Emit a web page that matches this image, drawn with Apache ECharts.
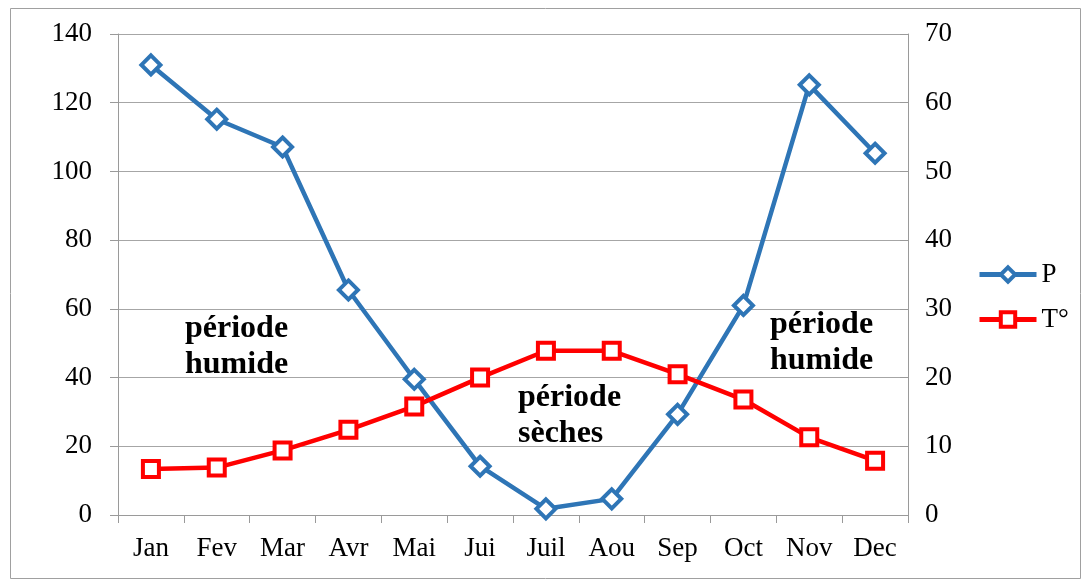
<!DOCTYPE html>
<html>
<head>
<meta charset="utf-8">
<script src="https://cdn.jsdelivr.net/npm/echarts@6/dist/echarts.min.js"></script>
<style>
  html, body { margin: 0; padding: 0; background: #fff; }
  #chart { width: 1081px; height: 579px; }
</style>
</head>
<body>
<div id="chart"></div>
<script>
const months = ['Jan', 'Fev', 'Mar', 'Avr', 'Mai', 'Jui', 'Juil', 'Aou', 'Sep', 'Oct', 'Nov', 'Dec'];
const precip = [131, 115.2, 107.1, 65.5, 39.5, 14.2, 1.8, 4.7, 29.3, 61, 125.2, 105.3];
const temp = [6.7, 6.9, 9.4, 12.4, 15.8, 20, 23.9, 23.9, 20.5, 16.8, 11.3, 7.9];

const serif = '"Liberation Serif", "Times New Roman", serif';
const blue = '#2e75b6';
const red = '#ff0000';

const chart = echarts.init(document.getElementById('chart'));

chart.setOption({
  animation: false,
  textStyle: { fontFamily: serif },
  grid: { left: 118, right: 173, top: 34, bottom: 64 },
  legend: {
    orient: 'vertical',
    left: 972,
    top: 256,
    itemWidth: 57,
    itemHeight: 18,
    itemGap: 18,
    lineStyle: { width: 5 },
    itemStyle: { borderWidth: 4 },
    textStyle: { fontFamily: serif, fontSize: 27, color: '#000' },
    data: ['P', 'T°']
  },
  xAxis: {
    type: 'category',
    data: months,
    boundaryGap: true,
    axisLine: { lineStyle: { color: '#9a9a9a', width: 1 } },
    axisTick: { show: true, length: 8, lineStyle: { color: '#9a9a9a' } },
    axisLabel: { fontFamily: serif, fontSize: 27, color: '#000', margin: 20 }
  },
  yAxis: [
    {
      type: 'value', min: 0, max: 140, interval: 20,
      axisLine: { show: true, lineStyle: { color: '#9a9a9a' } },
      axisTick: { show: true, length: 8, lineStyle: { color: '#9a9a9a' } },
      splitLine: { lineStyle: { color: '#a6a6a6', width: 1 } },
      axisLabel: { fontFamily: serif, fontSize: 27, color: '#000', margin: 26 }
    },
    {
      type: 'value', min: 0, max: 70, interval: 10, position: 'right',
      axisLine: { show: true, lineStyle: { color: '#9a9a9a' } },
      axisTick: { show: true, inside: true, length: 8, lineStyle: { color: '#9a9a9a' } },
      splitLine: { show: false },
      axisLabel: { fontFamily: serif, fontSize: 27, color: '#000', margin: 17 }
    }
  ],
  series: [
    {
      name: 'P',
      type: 'line',
      data: precip,
      yAxisIndex: 0,
      symbol: 'diamond',
      symbolSize: 19,
      color: blue,
      lineStyle: { width: 4.5, color: blue },
      itemStyle: { color: '#fff', borderColor: blue, borderWidth: 4 },
      z: 3
    },
    {
      name: 'T°',
      type: 'line',
      data: temp,
      yAxisIndex: 1,
      symbol: 'rect',
      symbolSize: 16,
      color: red,
      lineStyle: { width: 4.5, color: red },
      itemStyle: { color: '#fff', borderColor: red, borderWidth: 4 },
      z: 4
    }
  ],
  graphic: [
    { type: 'rect', left: 8, top: 6, shape: { width: 1070, height: 570 }, style: { fill: 'none', stroke: '#a0a0a0', lineWidth: 1 }, silent: true },
    { type: 'text', left: 185, top: 311, style: { text: 'période\nhumide', font: 'bold 32px ' + serif, fill: '#000', lineHeight: 36 } },
    { type: 'text', left: 518, top: 380, style: { text: 'période\nsèches', font: 'bold 32px ' + serif, fill: '#000', lineHeight: 36 } },
    { type: 'text', left: 770, top: 307, style: { text: 'période\nhumide', font: 'bold 32px ' + serif, fill: '#000', lineHeight: 36 } }
  ]
});
</script>
</body>
</html>
